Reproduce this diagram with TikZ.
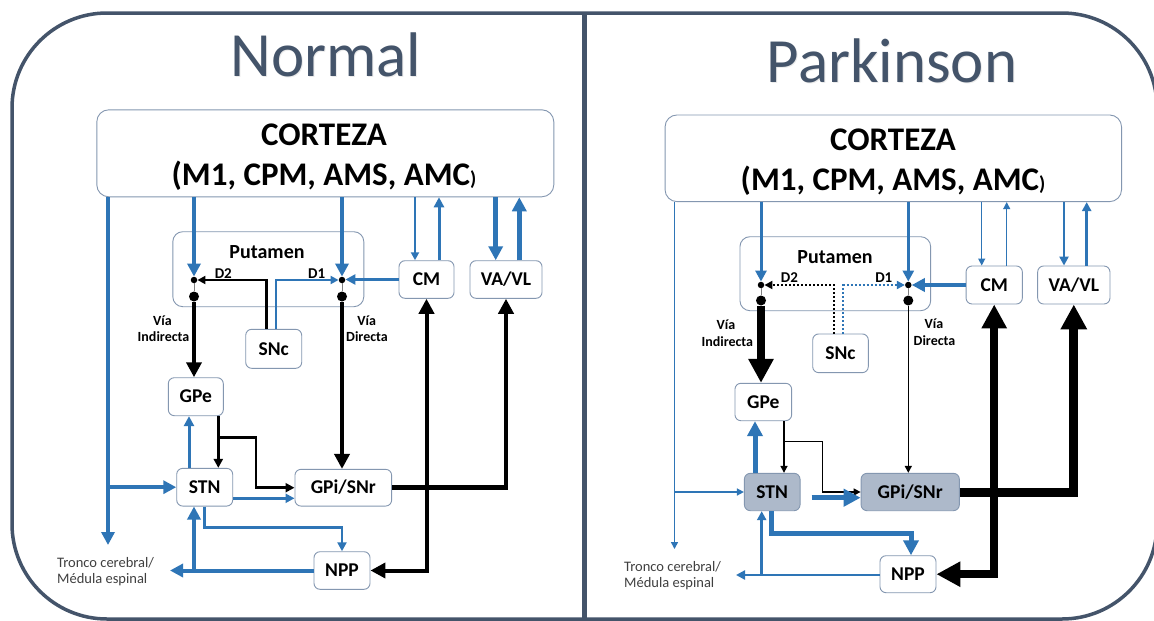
\documentclass[tikz,border=0pt]{standalone}
\usepackage{fontspec}
\setmainfont{Carlito}
\usetikzlibrary{arrows.meta,calc}
\definecolor{myblue}{RGB}{46,117,182}
\definecolor{framec}{RGB}{68,84,106}
\definecolor{boxc}{RGB}{132,151,176}
\definecolor{fillc}{RGB}{173,185,202}
\definecolor{txtg}{RGB}{64,64,64}
\begin{document}
\begin{tikzpicture}[x=1pt,y=-1pt,
  box/.style={draw=boxc, line width=0.9pt, rounded corners=6pt, fill=white, inner sep=0pt,
    font=\bfseries\fontsize{19.5}{19.5}\selectfont, text height=12.5pt, text depth=0pt},
  bigbox/.style={draw=boxc, line width=0.9pt, rounded corners=12pt, fill=white, inner sep=0pt},
  sdot/.style={circle, fill=black, inner sep=0pt, minimum size=6.5pt},
  bdot/.style={circle, fill=black, inner sep=0pt, minimum size=10pt},
  blu/.style={draw=myblue, line width=#1},
  blk/.style={draw=black, line width=#1},
  hA/.style={-{Triangle[length=#1pt,width=#1pt]}},
  hB/.style={{Triangle[length=#1pt,width=#1pt]}-{Triangle[length=#1pt,width=#1pt]}},
  lbl/.style={font=\bfseries\fontsize{14}{14}\selectfont, anchor=base, inner sep=0pt},
  dlbl/.style={font=\bfseries\fontsize{15}{15}\selectfont, anchor=base, inner sep=0pt},
  trn/.style={font=\fontsize{14.5}{14.5}\selectfont, text=txtg, anchor=base west, inner sep=0pt},
  ttl/.style={font=\fontsize{63}{63}\selectfont, text=framec, anchor=base, inner sep=0pt},
  ttls/.style={font=\fontsize{63}{63}\selectfont, text=black, opacity=0.08, anchor=base, inner sep=0pt},
  ctxt/.style={font=\bfseries\fontsize{33}{33}\selectfont, anchor=base, inner sep=0pt},
  putt/.style={font=\bfseries\fontsize{20}{20}\selectfont, anchor=base, inner sep=0pt},
  dotlk/.style={draw=gray, line width=0.8pt},
  dotpat/.style={dash pattern=on 2pt off 2pt}
]
\useasboundingbox (0,0) rectangle (1154,621);
\fill[white] (0,0) rectangle (1154,621);
% frame and divider
\draw[framec, line width=3.5pt, rounded corners=95pt] (12,13) rectangle (1157,619);
\draw[framec, line width=5pt] (584,13) -- (584,621);
% titles
\node[ttls] (tNs) at (327,77) {Normal};
\node[ttl] (tN) at (326,76) {Normal};
\node[ttls] (tPs) at (893,83) {Parkinson};
\node[ttl] (tP) at (892,82) {Parkinson};

%================ LEFT PANEL =================
\node[bigbox, minimum width=457pt, minimum height=87pt] (ctxL) at (325.3,153.3) {};
\node[ctxt] (ctxL1) at (324,145) {CORTEZA};
\node[ctxt] (ctxL2) at (324,185) {(M1, CPM, AMS, AMC{\fontsize{20}{20}\selectfont)}};
\node[bigbox, rounded corners=10pt, minimum width=191pt, minimum height=75pt] (putL) at (268.3,269.2) {};
\node[putt] (putLt) at (267,258) {Putamen};
\node[sdot] (d2L) at (194,280) {};
\node[bdot] (b2L) at (194,296.5) {};
\node[sdot] (d1L) at (342,280) {};
\node[bdot] (b1L) at (342,296.5) {};
\node[dlbl] (D2L) at (223.3,278.3) {D2};
\node[dlbl] (D1L) at (316.7,278.3) {D1};
\node[box, minimum width=56pt, minimum height=39pt] (snL) at (273.7,348.8) {SNc};
\node[box, minimum width=55pt, minimum height=37.6pt] (cmL) at (426.5,279.5) {CM};
\node[box, minimum width=72pt, minimum height=37.6pt] (vaL) at (506,279.5) {VA/VL};
\node[box, minimum width=55pt, minimum height=38pt] (gpeL) at (195.8,396.7) {GPe};
\node[box, minimum width=56pt, minimum height=37.7pt] (stnL) at (204.7,487.2) {STN};
\node[box, minimum width=96.7pt, minimum height=36.7pt] (gpiL) at (343.3,487.7) {GPi/SNr};
\node[box, minimum width=56pt, minimum height=37.6pt] (nppL) at (342,570.5) {NPP};
\node[lbl] (viL1) at (162.5,325) {Vía};
\node[lbl] (viL2) at (163.5,341.7) {Indirecta};
\node[lbl] (vdL1) at (366.7,325) {Vía};
\node[lbl] (vdL2) at (367,341.7) {Directa};
\node[trn] (trL1) at (57,567) {Tronco cerebral/};
\node[trn] (trL2) at (57,583.5) {Médula espinal};

\coordinate (tipL) at (108,545);
\coordinate (trLt) at (170,570.5);
\coordinate (sLk) at (266.7,0);
\coordinate (sLb) at (275.7,0);
\coordinate (cLi) at (415,0);
\coordinate (cLo) at (439,0);
\coordinate (vLi) at (495.7,0);
\coordinate (vLo) at (519.3,0);
\coordinate (xL1) at (189,0);
\coordinate (xL2) at (218.3,0);
\coordinate (jL1) at (218.3,437.7);
\coordinate (yL1) at (0,498.3);
\coordinate (jL2) at (194,570.5);

\draw[blu=4, hA=13] (ctxL.south -| d2L) -- (d2L.north);
\draw[blu=4, hA=13] (ctxL.south -| d1L) -- (d1L.north);
\draw[blu=4, hA=13] (ctxL.south -| tipL) -- (tipL);
\draw[blu=4, hA=13] (tipL |- stnL.west) -- (stnL.west);
\draw[dotlk] (d2L) -- (b2L);
\draw[dotlk] (d1L) -- (b1L);
\draw[blk=4, hA=15] (b2L) -- (b2L |- gpeL.north);
\draw[blk=4, hA=15] (b1L) -- (b1L |- gpiL.north);
\draw[blk=2.5, hA=8] (sLk |- snL.north) |- (d2L.east);
\draw[blu=2, hA=8] (sLb |- snL.north) |- (d1L.west);
\draw[blu=3, hA=10] (cmL.west) -- (cmL.west -| d1L.east);
\draw[blu=2, hA=8] (cLi |- ctxL.south) -- (cLi |- cmL.north);
\draw[blu=3, hA=10] (cLo |- cmL.north) -- (cLo |- ctxL.south);
\draw[blu=4.5, hA=14] (vLi |- ctxL.south) -- (vLi |- vaL.north);
\draw[blu=4.5, hA=14] (vLo |- vaL.north) -- (vLo |- ctxL.south);
\draw[blk=4.5, hA=15] (gpiL.east) -| (vaL.south);
\draw[blk=4, hB=15] (nppL.east) -| (cmL.south);
\draw[blu=3, hA=10] (xL1 |- stnL.north) -- (xL1 |- gpeL.south);
\draw[blk=2.5, hA=9] (xL2 |- gpeL.south) -- (xL2 |- stnL.north);
\draw[blk=2.5, hA=9] (jL1) -- (256,437.7) |- (gpiL.west);
\draw[blu=2.5, hA=9] (stnL.east |- yL1) -- (gpiL.west |- yL1);
\draw[blu=2.5, hA=9] (stnL.south) -- (stnL.south |- 0,527.7) -| (nppL.north);
\draw[blu=4, hA=13] (nppL.west) -- (trLt);
\draw[blu=4, hA=13] (jL2) -- (jL2 |- stnL.south);

%================ RIGHT PANEL =================
\node[bigbox, minimum width=456.5pt, minimum height=86.7pt] (ctxR) at (893.3,158.3) {};
\node[ctxt] (ctxR1) at (893,150) {CORTEZA};
\node[ctxt] (ctxR2) at (893,190) {(M1, CPM, AMS, AMC{\fontsize{20}{20}\selectfont)}};
\node[bigbox, rounded corners=10pt, minimum width=190.7pt, minimum height=74pt] (putR) at (835.3,273.7) {};
\node[putt] (putRt) at (835,263) {Putamen};
\node[sdot] (d2R) at (761,285) {};
\node[bdot] (b2R) at (761,300.5) {};
\node[sdot] (d1R) at (908.3,285) {};
\node[bdot] (b1R) at (908.3,300.5) {};
\node[dlbl] (D2R) at (789.5,282.7) {D2};
\node[dlbl] (D1R) at (883.8,282.7) {D1};
\node[box, minimum width=55.6pt, minimum height=38.7pt] (snR) at (840.5,353.3) {SNc};
\node[box, minimum width=56.3pt, minimum height=38pt] (cmR) at (994.2,285) {CM};
\node[box, minimum width=72.3pt, minimum height=38pt] (vaR) at (1073.8,285) {VA/VL};
\node[box, minimum width=56.7pt, minimum height=37.4pt] (gpeR) at (763.3,402) {GPe};
\node[box, fill=fillc, minimum width=55.7pt, minimum height=37.4pt] (stnR) at (772.2,492) {STN};
\node[box, fill=fillc, minimum width=98.3pt, minimum height=37.4pt] (gpiR) at (910.2,492) {GPi/SNr};
\node[box, minimum width=56pt, minimum height=37pt] (nppR) at (908,574.2) {NPP};
\node[lbl] (viR1) at (726,329.5) {Vía};
\node[lbl] (viR2) at (727.3,346.2) {Indirecta};
\node[lbl] (vdR1) at (934,328.5) {Vía};
\node[lbl] (vdR2) at (934.5,345.2) {Directa};
\node[trn] (trR1) at (624,571) {Tronco cerebral/};
\node[trn] (trR2) at (624,587.5) {Médula espinal};

\coordinate (tipR) at (674.5,549);
\coordinate (trRt) at (736,575);
\coordinate (sRk) at (834.3,0);
\coordinate (sRb) at (843.3,0);
\coordinate (cRi) at (981.7,0);
\coordinate (cRo) at (1006.7,0);
\coordinate (vRi) at (1064,0);
\coordinate (vRo) at (1086.7,0);
\coordinate (xR1) at (755,0);
\coordinate (xR2) at (784,0);
\coordinate (jR1) at (784,441.7);
\coordinate (sRs) at (811.7,497.7);
\coordinate (xR3) at (771.7,0);
\coordinate (xR4) at (911,0);
\coordinate (jR2) at (761.7,575);

\draw[blu=3, hA=11] (ctxR.south -| d2R) -- (d2R.north);
\draw[blu=3, hA=11] (ctxR.south -| d1R) -- (d1R.north);
\draw[blu=1.5, hA=7] (ctxR.south -| tipR) -- (tipR);
\draw[blu=1.5, hA=7] (tipR |- stnR.west) -- (stnR.west);
\draw[dotlk] (d2R) -- (b2R);
\draw[dotlk] (d1R) -- (b1R);
\draw[blk=8.5, hA=24] (b2R) -- (b2R |- gpeR.north);
\draw[blk=1.5, hA=7] (b1R) -- (b1R |- gpiR.north);
\draw[blk=2, dotpat, hA=8] (sRk |- snR.north) |- (d2R.east);
\draw[blu=2, dotpat, hA=8] (sRb |- snR.north) |- (d1R.west);
\draw[blu=4, hA=13] (cmR.west) -- (cmR.west -| d1R.east);
\draw[blu=1.2, hA=7] (cRi |- ctxR.south) -- (cRi |- cmR.north);
\draw[blu=1.2, hA=7] (cRo |- cmR.north) -- (cRo |- ctxR.south);
\draw[blu=2.5, hA=9] (vRi |- ctxR.south) -- (vRi |- vaR.north);
\draw[blu=2.5, hA=9] (vRo |- vaR.north) -- (vRo |- ctxR.south);
\draw[blk=9, hA=25] (gpiR.east) -| (vaR.south);
\draw[blk=8, hB=24] (nppR.east) -| (cmR.south);
\draw[blu=5, hA=15] (xR1 |- stnR.north) -- (xR1 |- gpeR.south);
\draw[blk=1.5, hA=7] (xR2 |- gpeR.south) -- (xR2 |- stnR.north);
\draw[blk=1.5, hA=7] (jR1) -- (822.3,441.7) |- (gpiR.west);
\draw[blu=5, hA=17] (sRs) -- (sRs -| gpiR.west);
\draw[blu=5, hA=15] (xR3 |- stnR.south) -- (xR3 |- 0,533.3) -| (xR4 |- nppR.north);
\draw[blu=2.5, hA=9] (nppR.west |- trRt) -- (trRt);
\draw[blu=2.5, hA=9] (jR2) -- (jR2 |- stnR.south);
\end{tikzpicture}
\end{document}
